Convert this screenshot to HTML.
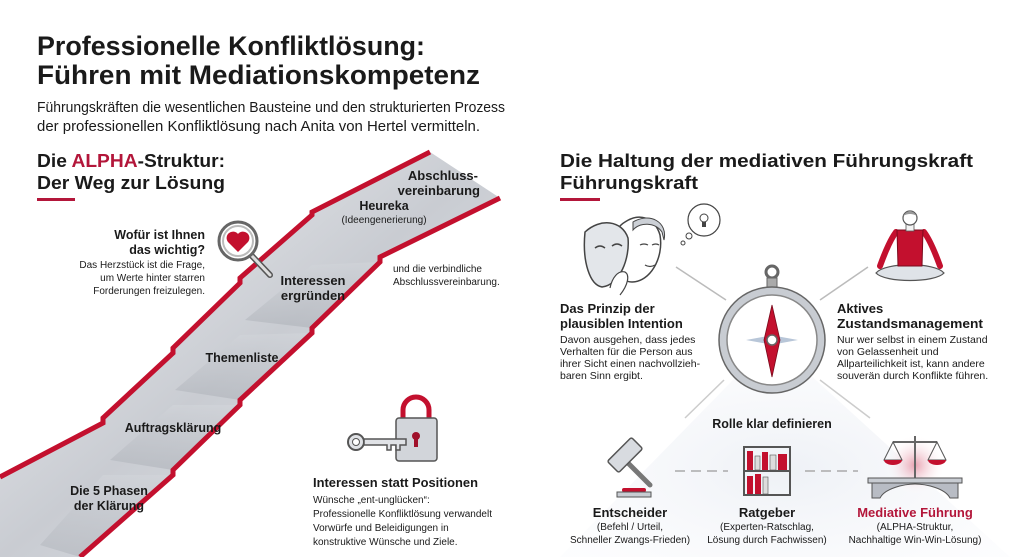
<!DOCTYPE html>
<html><head><meta charset="utf-8"><style>
html,body{margin:0;padding:0;background:#fff}
svg{display:block}
.t{font-family:"Liberation Sans",sans-serif;fill:#1a1a1a}
.b{font-weight:bold}
.n{font-family:"Liberation Sans",sans-serif;fill:#1a1a1a}
</style></head><body>
<svg width="1024" height="557" viewBox="0 0 1024 557" xmlns="http://www.w3.org/2000/svg">
<defs>
<linearGradient id="st" x1="0" y1="0" x2="1" y2="1">
<stop offset="0" stop-color="#f4f5f7"/><stop offset="0.5" stop-color="#c9ccd2"/><stop offset="1" stop-color="#e8eaee"/></linearGradient>
<linearGradient id="rs" x1="0" y1="0" x2="0" y2="1">
<stop offset="0" stop-color="#d4d7dc"/><stop offset="1" stop-color="#a9adb4"/></linearGradient>
<radialGradient id="bg" cx="0.5" cy="0.6" r="0.6">
<stop offset="0" stop-color="#eef1f6"/><stop offset="1" stop-color="#f7f8fb" stop-opacity="0.3"/></radialGradient>
<radialGradient id="glow" cx="0.5" cy="0.5" r="0.5">
<stop offset="0" stop-color="#e8a0b0"/><stop offset="1" stop-color="#fff" stop-opacity="0"/></radialGradient>
</defs>

<!-- titles -->
<text class="t b" x="37" y="55" font-size="27" textLength="388" lengthAdjust="spacingAndGlyphs">Professionelle Konfliktlösung:</text>
<text class="t b" x="37" y="84" font-size="27" textLength="443" lengthAdjust="spacingAndGlyphs">Führen mit Mediationskompetenz</text>
<text class="t" x="37" y="112" font-size="14.5" textLength="468" lengthAdjust="spacingAndGlyphs">Führungskräften die wesentlichen Bausteine und den strukturierten Prozess</text>
<text class="t" x="37" y="131" font-size="14.5" textLength="443" lengthAdjust="spacingAndGlyphs">der professionellen Konfliktlösung nach Anita von Hertel vermitteln.</text>

<text class="t b" x="37" y="167" font-size="18" textLength="188" lengthAdjust="spacingAndGlyphs">Die <tspan fill="#b3163a">ALPHA</tspan>-Struktur:</text>
<text class="t b" x="37" y="189" font-size="18" textLength="188" lengthAdjust="spacingAndGlyphs">Der Weg zur Lösung</text>
<rect x="37" y="198" width="38" height="3" fill="#b3163a"/>

<text class="t b" x="560" y="167" font-size="18" textLength="413" lengthAdjust="spacingAndGlyphs">Die Haltung der mediativen Führungskraft</text>
<text class="t b" x="560" y="189" font-size="18" textLength="138" lengthAdjust="spacingAndGlyphs">Führungskraft</text>
<rect x="560" y="198" width="40" height="3" fill="#b3163a"/>

<!-- staircase -->
<polygon fill="url(#st)" points="0,477 103,423 103,418 173,353 173,348 240,283 240,278 312,215 312,212 430,152 500,198 380,257 380,262 312,328 312,333 240,400 240,405 173,470 173,475 80,557 0,557"/>
<polygon fill="url(#rs)" opacity="0.5" points="110,460 173,405 240,405 173,470"/>
<polygon fill="url(#rs)" opacity="0.5" points="175,390 240,335 312,333 240,400"/>
<polygon fill="url(#rs)" opacity="0.5" points="245,320 312,265 380,262 312,328"/>
<polygon fill="url(#rs)" opacity="0.45" points="40,545 103,475 173,475 80,557"/>
<polyline fill="none" stroke="#c3102e" stroke-width="5" stroke-linejoin="miter" points="0,477 103,423 103,418 173,353 173,348 240,283 240,278 312,215 312,212 430,152"/>
<polyline fill="none" stroke="#c3102e" stroke-width="5" points="500,198 380,257 380,262 312,328 312,333 240,400 240,405 173,470 173,475 80,557"/>

<text class="t b" x="478" y="180" font-size="13" text-anchor="end">Abschluss-</text>
<text class="t b" x="480" y="195" font-size="13" text-anchor="end">vereinbarung</text>
<text class="t b" x="384" y="210" font-size="12.5" text-anchor="middle">Heureka</text>
<text class="n" x="384" y="223" font-size="10" text-anchor="middle">(Ideengenerierung)</text>
<text class="t b" x="313" y="285" font-size="13" text-anchor="middle">Interessen</text>
<text class="t b" x="313" y="300" font-size="13" text-anchor="middle">ergründen</text>
<text class="n" x="393" y="272" font-size="10">und die verbindliche</text>
<text class="n" x="393" y="285" font-size="10">Abschlussvereinbarung.</text>
<text class="t b" x="242" y="362" font-size="12.5" text-anchor="middle">Themenliste</text>
<text class="t b" x="173" y="432" font-size="12.5" text-anchor="middle">Auftragsklärung</text>
<text class="t b" x="109" y="495" font-size="12.5" text-anchor="middle">Die 5 Phasen</text>
<text class="t b" x="109" y="510" font-size="12.5" text-anchor="middle">der Klärung</text>

<text class="t b" x="205" y="239" font-size="12.5" text-anchor="end">Wofür ist Ihnen</text>
<text class="t b" x="205" y="254" font-size="12.5" text-anchor="end">das wichtig?</text>
<text class="n" x="205" y="268" font-size="10" text-anchor="end">Das Herzstück ist die Frage,</text>
<text class="n" x="205" y="281" font-size="10" text-anchor="end">um Werte hinter starren</text>
<text class="n" x="205" y="294" font-size="10" text-anchor="end">Forderungen freizulegen.</text>
<!-- magnifier -->
<line x1="252" y1="256" x2="270" y2="275" stroke="#555" stroke-width="6" stroke-linecap="round"/>
<line x1="252" y1="256" x2="270" y2="275" stroke="#ddd" stroke-width="3" stroke-linecap="round"/>
<circle cx="238" cy="241" r="19" fill="#fff" stroke="#666" stroke-width="3"/>
<circle cx="238" cy="241" r="15" fill="none" stroke="#bbb" stroke-width="2"/>
<path d="M238,252 L228,242 A5,5 0 0 1 238,234 A5,5 0 0 1 248,242 Z" fill="#c3102e"/>

<!-- key & lock -->
<path d="M403,418 V410 A13,13 0 0 1 429,410 V418" fill="none" stroke="#c3102e" stroke-width="5"/>
<rect x="396" y="418" width="41" height="43" rx="3" fill="#d2d5da" stroke="#555" stroke-width="1.5"/>
<circle cx="416" cy="436" r="4" fill="#a0102a"/><rect x="414" y="437" width="4" height="10" fill="#a0102a"/>
<circle cx="356" cy="442" r="8" fill="#e0e2e6" stroke="#555" stroke-width="2"/>
<circle cx="356" cy="442" r="3.5" fill="#fff" stroke="#555" stroke-width="1"/>
<path d="M364,439 H406 V445 H400 V450 H396 V445 H391 V450 H387 V445 H364 Z" fill="#e0e2e6" stroke="#555" stroke-width="1.5"/>
<text class="t b" x="313" y="487" font-size="13" textLength="165" lengthAdjust="spacingAndGlyphs">Interessen statt Positionen</text>
<text class="n" x="313" y="503" font-size="10">Wünsche „ent-unglücken“:</text>
<text class="n" x="313" y="517" font-size="10">Professionelle Konfliktlösung verwandelt</text>
<text class="n" x="313" y="531" font-size="10">Vorwürfe und Beleidigungen in</text>
<text class="n" x="313" y="545" font-size="10">konstruktive Wünsche und Ziele.</text>

<!-- right background -->
<polygon points="772,340 560,557 1010,557" fill="url(#bg)"/>
<line x1="676" y1="267" x2="726" y2="300" stroke="#bbb" stroke-width="1.5"/>
<line x1="868" y1="267" x2="820" y2="300" stroke="#bbb" stroke-width="1.5"/>
<line x1="724" y1="380" x2="685" y2="418" stroke="#ccc" stroke-width="1.5"/>
<line x1="820" y1="380" x2="870" y2="418" stroke="#ccc" stroke-width="1.5"/>
<line x1="675" y1="471" x2="728" y2="471" stroke="#aaa" stroke-width="1.5" stroke-dasharray="10,6"/>
<line x1="805" y1="471" x2="858" y2="471" stroke="#aaa" stroke-width="1.5" stroke-dasharray="10,6"/>

<!-- mask & face -->
<path d="M625,222 C640,212 655,218 660,235 C664,258 650,282 632,282 C618,282 612,262 614,245 C615,232 618,226 625,222 Z" fill="#fff" stroke="#444" stroke-width="1.5"/>
<path d="M633,222 C650,212 668,222 664,240 L662,232 C655,222 640,222 633,230Z" fill="#ccd0d6" stroke="#444" stroke-width="1"/>
<path d="M585,232 C600,218 622,220 628,238 C630,258 620,285 602,287 C590,285 582,262 585,232 Z" fill="#e3e6ea" stroke="#444" stroke-width="1.5"/>
<path d="M595,248 q5,-4 10,0 M612,246 q5,-4 10,0" stroke="#444" fill="none" stroke-width="1.5"/>
<path d="M640,245 q4,-2 8,0 M652,245 q4,-2 7,0 M645,265 q5,3 10,0" stroke="#444" fill="none" stroke-width="1.2"/>
<path d="M610,288 C612,278 618,270 625,272 C630,275 628,285 620,295" fill="#fff" stroke="#444" stroke-width="1.2"/>
<circle cx="704" cy="220" r="16" fill="#fff" stroke="#444" stroke-width="1.2"/>
<circle cx="689" cy="236" r="3" fill="#fff" stroke="#444"/><circle cx="683" cy="243" r="2" fill="#fff" stroke="#444"/>
<circle cx="704" cy="218" r="4" fill="none" stroke="#444"/><rect x="702" y="222" width="4" height="5" fill="#444"/>

<!-- meditation -->
<path d="M876,273 C885,262 935,262 944,273 C935,283 885,283 876,273 Z" fill="#dfe3e8" stroke="#555" stroke-width="1.2"/>
<path d="M896,232 C890,240 884,255 880,266 M924,232 C930,240 936,255 940,266" stroke="#c3102e" stroke-width="6" stroke-linecap="round" fill="none"/>
<path d="M897,230 L923,230 L922,266 L898,266 Z" fill="#c3102e" stroke="#7a0a1c" stroke-width="1"/>
<rect x="906" y="224" width="8" height="7" fill="#f3f3f3" stroke="#555" stroke-width="0.8"/>
<circle cx="910" cy="218" r="7" fill="#fff" stroke="#555" stroke-width="1.2"/>
<path d="M903,216 q7,-10 14,0 q-7,-4 -14,0Z" fill="#999"/>

<text class="t b" x="560" y="313" font-size="13">Das Prinzip der</text>
<text class="t b" x="560" y="328" font-size="13">plausiblen Intention</text>
<text class="n" x="560" y="343" font-size="10.5">Davon ausgehen, dass jedes</text>
<text class="n" x="560" y="355" font-size="10.5">Verhalten für die Person aus</text>
<text class="n" x="560" y="367" font-size="10.5">ihrer Sicht einen nachvollzieh-</text>
<text class="n" x="560" y="379" font-size="10.5">baren Sinn ergibt.</text>
<text class="t b" x="837" y="313" font-size="13">Aktives</text>
<text class="t b" x="837" y="328" font-size="13" textLength="146" lengthAdjust="spacingAndGlyphs">Zustandsmanagement</text>
<text class="n" x="837" y="343" font-size="10.5">Nur wer selbst in einem Zustand</text>
<text class="n" x="837" y="355" font-size="10.5">von Gelassenheit und</text>
<text class="n" x="837" y="367" font-size="10.5">Allparteilichkeit ist, kann andere</text>
<text class="n" x="837" y="379" font-size="10.5">souverän durch Konflikte führen.</text>

<!-- compass -->
<circle cx="772" cy="272" r="6" fill="none" stroke="#666" stroke-width="3"/>
<rect x="767" y="278" width="10" height="9" fill="#aaa" stroke="#666"/>
<circle cx="772" cy="340" r="53" fill="#c8ccd2" stroke="#666" stroke-width="1.5"/>
<circle cx="772" cy="340" r="45" fill="#fff" stroke="#888" stroke-width="1.5"/>
<polygon points="772,318 776,336 798,340 776,344 772,362 768,344 746,340 768,336" fill="#b8c6d8"/>
<polygon points="772,305 780,340 772,377 764,340" fill="#c3102e" stroke="#7a0a1c" stroke-width="0.8"/>
<circle cx="772" cy="340" r="5" fill="#fff" stroke="#666" stroke-width="1.5"/>

<text class="t b" x="772" y="428" font-size="12.5" text-anchor="middle">Rolle klar definieren</text>

<!-- gavel -->
<line x1="627" y1="462" x2="650" y2="485" stroke="#777" stroke-width="5" stroke-linecap="round"/>
<g transform="rotate(-45 625 455)"><rect x="608" y="447" width="34" height="16" rx="2" fill="#d8dbe0" stroke="#555" stroke-width="1.5"/></g>
<rect x="622" y="488" width="24" height="4" rx="2" fill="#c3102e"/>
<rect x="617" y="492" width="34" height="5" fill="#c8ccd2" stroke="#555" stroke-width="1"/>

<!-- bookshelf -->
<rect x="744" y="447" width="46" height="48" fill="none" stroke="#555" stroke-width="2"/>
<line x1="744" y1="471" x2="790" y2="471" stroke="#555" stroke-width="2"/>
<rect x="747" y="451" width="6" height="19" fill="#c3102e"/><rect x="755" y="456" width="5" height="14" fill="#ddd" stroke="#555" stroke-width="0.6"/>
<rect x="762" y="452" width="6" height="18" fill="#c3102e"/><rect x="770" y="455" width="6" height="15" fill="#ddd" stroke="#555" stroke-width="0.6"/><rect x="778" y="454" width="9" height="16" fill="#c3102e"/>
<rect x="747" y="476" width="6" height="18" fill="#c3102e"/><rect x="755" y="474" width="6" height="20" fill="#c3102e"/><rect x="763" y="477" width="5" height="17" fill="#ddd" stroke="#555" stroke-width="0.6"/>

<!-- scales & bridge -->
<circle cx="915" cy="465" r="30" fill="url(#glow)"/>
<line x1="915" y1="436" x2="915" y2="480" stroke="#666" stroke-width="2"/>
<line x1="893" y1="442" x2="937" y2="442" stroke="#666" stroke-width="2"/>
<path d="M893,442 L884,460 H902 Z M937,442 L928,460 H946 Z" fill="none" stroke="#555" stroke-width="1"/>
<path d="M884,460 H902 A9,5 0 0 1 884,460Z M928,460 H946 A9,5 0 0 1 928,460Z" fill="#c3102e"/>
<rect x="868" y="478" width="94" height="5" fill="#c8ccd2" stroke="#555" stroke-width="1"/>
<path d="M872,483 V498 H880 C885,488 905,484 915,484 C925,484 945,488 950,498 H958 V483 Z" fill="#b8bcc4" stroke="#555" stroke-width="1"/>

<text class="t b" x="630" y="517" font-size="13" text-anchor="middle">Entscheider</text>
<text class="n" x="630" y="530" font-size="10" text-anchor="middle">(Befehl / Urteil,</text>
<text class="n" x="630" y="543" font-size="10" text-anchor="middle">Schneller Zwangs-Frieden)</text>
<text class="t b" x="767" y="517" font-size="13" text-anchor="middle">Ratgeber</text>
<text class="n" x="767" y="530" font-size="10" text-anchor="middle">(Experten-Ratschlag,</text>
<text class="n" x="767" y="543" font-size="10" text-anchor="middle">Lösung durch Fachwissen)</text>
<text class="t b" x="915" y="517" font-size="13" text-anchor="middle" style="fill:#b3163a">Mediative Führung</text>
<text class="n" x="915" y="530" font-size="10" text-anchor="middle">(ALPHA-Struktur,</text>
<text class="n" x="915" y="543" font-size="10" text-anchor="middle">Nachhaltige Win-Win-Lösung)</text>
</svg>
</body></html>
